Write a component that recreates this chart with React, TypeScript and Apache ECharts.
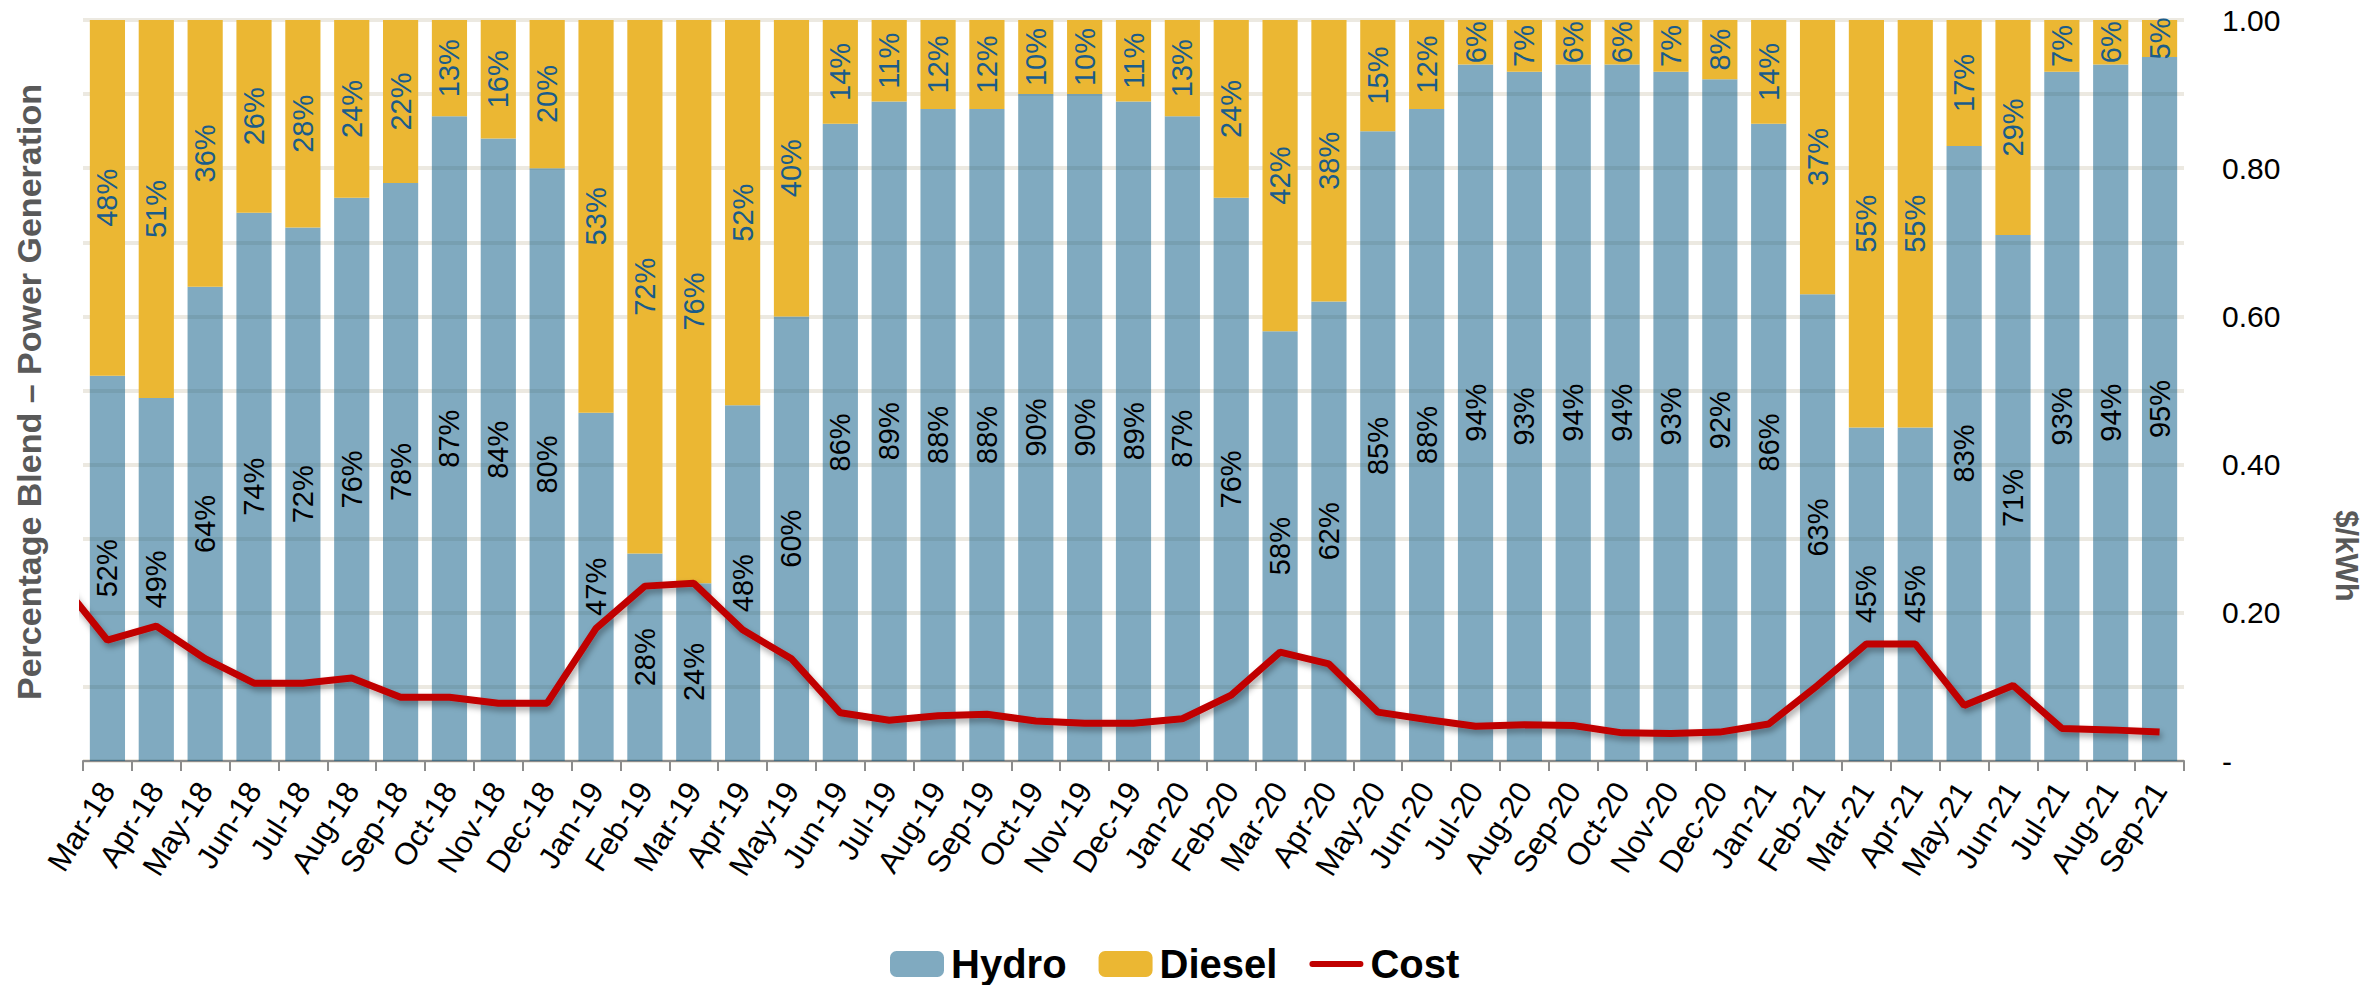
import React, { useEffect, useRef } from "react";
import * as echarts from "echarts";

const months = [
  "Mar-18","Apr-18","May-18","Jun-18","Jul-18","Aug-18","Sep-18","Oct-18","Nov-18","Dec-18",
  "Jan-19","Feb-19","Mar-19","Apr-19","May-19","Jun-19","Jul-19","Aug-19","Sep-19","Oct-19","Nov-19","Dec-19",
  "Jan-20","Feb-20","Mar-20","Apr-20","May-20","Jun-20","Jul-20","Aug-20","Sep-20","Oct-20","Nov-20","Dec-20",
  "Jan-21","Feb-21","Mar-21","Apr-21","May-21","Jun-21","Jul-21","Aug-21","Sep-21",
];

const hydroPct = [
  52,49,64,74,72,76,78,87,84,80,
  47,28,24,48,60,86,89,88,88,90,90,89,
  87,76,58,62,85,88,94,93,94,94,93,92,
  86,63,45,45,83,71,93,94,95,
];

const dieselPct = [
  48,51,36,26,28,24,22,13,16,20,
  53,72,76,52,40,14,11,12,12,10,10,11,
  13,24,42,38,15,12,6,7,6,6,7,8,
  14,37,55,55,17,29,7,6,5,
];

const costPerKWh = [
  0.163,0.182,0.138,0.105,0.105,0.112,0.086,0.086,0.078,0.078,
  0.179,0.236,0.240,0.177,0.138,0.065,0.055,0.061,0.063,0.054,0.051,0.051,
  0.057,0.089,0.147,0.131,0.066,0.056,0.047,0.049,0.048,0.038,0.037,0.039,
  0.050,0.102,0.158,0.158,0.075,0.102,0.044,0.042,0.039,
];

// the previous month's cost, whose segment enters the plot from the left edge
const costPrevMonth = 0.245;

const FONT = "'Liberation Sans', Arial, sans-serif";

export default function App() {
  const ref = useRef<HTMLDivElement>(null);

  useEffect(() => {
    if (!ref.current) return;
    const chart = echarts.init(ref.current, undefined, { renderer: "svg" });

    const pctLabel = (p: any) => `${Math.round(p.value * 100)}%`;

    const costData: [number, number][] = [[-0.5, costPrevMonth] as [number, number]].concat(
      costPerKWh.map((v, i) => [i + 0.5, v] as [number, number])
    );

    chart.setOption({
      animation: false,
      backgroundColor: "#ffffff",
      textStyle: { fontFamily: FONT },
      grid: { left: 83, right: 183, top: 20, bottom: 224, containLabel: false },
      legend: {
        data: [
          { name: "Hydro" },
          { name: "Diesel" },
          { name: "Cost", icon: "path://M0,0 M56,26 M3,10 L53,10 A3,3 0 0 1 53,16 L3,16 A3,3 0 0 1 3,10 Z" },
        ],
        left: 885,
        top: 937,
        itemWidth: 54,
        itemHeight: 26,
        itemGap: 32,
        textStyle: {
          fontFamily: FONT,
          fontWeight: "bold",
          fontSize: 40,
          color: "#000",
          lineHeight: 44,
          padding: [0, 0, 0, 2],
        },
      },
      xAxis: [
        {
          type: "category",
          data: months,
          axisLine: { lineStyle: { color: "#8c8c8c", width: 2 } },
          axisTick: { show: true, length: 10, lineStyle: { color: "#8c8c8c", width: 2 } },
          axisLabel: {
            rotate: 58,
            fontSize: 31,
            color: "#000",
            fontFamily: FONT,
            margin: 24,
            interval: 0,
          },
          splitLine: { show: false },
        },
        {
          type: "value",
          min: 0,
          max: months.length,
          show: false,
        },
      ],
      yAxis: [
        {
          type: "value",
          min: 0,
          max: 1,
          interval: 0.1,
          axisLabel: { show: false },
          axisLine: { show: false },
          axisTick: { show: false },
          splitLine: { show: true, lineStyle: { color: "#ECE9E1", width: 4 } },
        },
        {
          type: "value",
          position: "right",
          min: 0,
          max: 1,
          interval: 0.2,
          axisLine: { show: false },
          axisTick: { show: false },
          splitLine: { show: false },
          axisLabel: {
            fontSize: 30,
            color: "#000",
            margin: 38,
            fontFamily: FONT,
            formatter: (v: number) => (v === 0 ? "-" : v.toFixed(2)),
          },
        },
      ],
      graphic: [
        {
          type: "text",
          x: 29,
          y: 392,
          rotation: Math.PI / 2,
          style: {
            text: "Percentage Blend \u2013 Power Generation",
            fontFamily: FONT,
            fontWeight: "bold",
            fontSize: 34,
            fill: "#595959",
            textAlign: "center",
            textVerticalAlign: "middle",
          },
        },
        {
          type: "text",
          x: 2346,
          y: 556,
          rotation: -Math.PI / 2,
          style: {
            text: "$/kWh",
            fontFamily: FONT,
            fontWeight: "bold",
            fontSize: 31,
            fill: "#595959",
            textAlign: "center",
            textVerticalAlign: "middle",
          },
        },
      ],
      series: [
        {
          name: "Hydro",
          type: "bar",
          stack: "blend",
          barCategoryGap: "28%",
          data: hydroPct.map((v) => v / 100),
          itemStyle: { color: "rgba(1,85,129,0.5)" },
          label: {
            show: true,
            position: "inside",
            rotate: 90,
            formatter: pctLabel,
            fontSize: 29,
            color: "#000",
            fontFamily: FONT,
          },
        },
        {
          name: "Diesel",
          type: "bar",
          stack: "blend",
          barCategoryGap: "28%",
          data: dieselPct.map((v) => v / 100),
          itemStyle: { color: "#EBB733" },
          label: {
            show: true,
            position: "inside",
            rotate: 90,
            formatter: pctLabel,
            fontSize: 29,
            color: "#1A5C8A",
            fontFamily: FONT,
          },
        },
        {
          name: "Cost",
          type: "line",
          xAxisIndex: 1,
          yAxisIndex: 1,
          data: costData,
          clip: true,
          symbol: "none",
          lineStyle: {
            color: "#C00000",
            width: 7,
            shadowColor: "rgba(0,0,0,0.35)",
            shadowBlur: 6,
            shadowOffsetX: 2,
            shadowOffsetY: 4,
          },
          itemStyle: { color: "#C00000" },
          z: 5,
        },
      ],
    });

    return () => {
      chart.dispose();
    };
  }, []);

  return (
    <div
      ref={ref}
      style={{ position: "fixed", left: 0, top: 0, width: 2367, height: 985, background: "#fff" }}
    />
  );
}
